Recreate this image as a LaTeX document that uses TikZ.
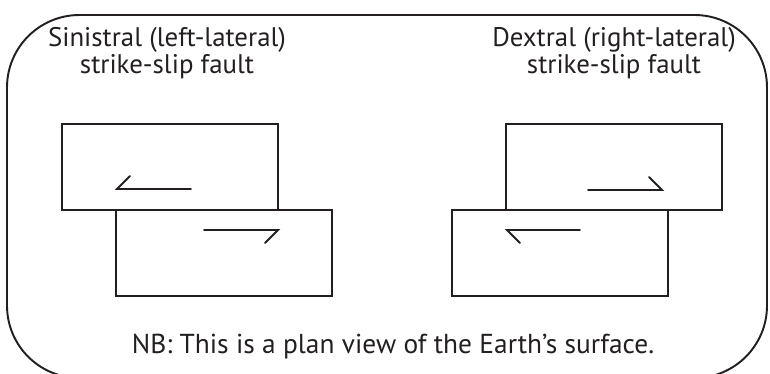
\documentclass[tikz,border=0pt]{standalone}
\usepackage{fontspec}
\setmainfont{PT Sans}
\usetikzlibrary{positioning}
\definecolor{ink}{HTML}{231F20}

\tikzset{
  block/.style={draw=ink, line width=1.1pt, minimum width=4.32cm, minimum height=1.72cm, inner sep=0pt},
  slip/.style={draw=ink, line width=1.1pt, line cap=round, line join=miter},
  caption/.style={font=\fontsize{15.3}{15.4}\selectfont, text=ink, align=center}
}

\begin{document}
\begin{tikzpicture}[x=0.02cm, y=-0.02cm]

% Page and frame
\useasboundingbox (0,0) rectangle (770,373);
\clip (0,0) rectangle (770,373);
\draw[ink, line width=1.1pt, rounded corners=1.45cm] (7,15) rectangle (767,378);

% Sinistral fault
\node[caption] (sinLabel) at (167,53) {Sinistral (left-lateral)\\strike-slip fault};
\node[block] (sinTop) at (170,167) {};
\node[block] (sinBot) at (224,253) {};
\draw[slip] (191,189) -- (117,189) -- (130,176);
\draw[slip] (204,230) -- (278,230) -- (265,243);

% Dextral fault
\node[caption] (dexLabel) at (614,53) {Dextral (right-lateral)\\strike-slip fault};
\node[block] (dexTop) at (614,167) {};
\node[block] (dexBot) at (560,253) {};
\draw[slip] (588,190) -- (662,190) -- (649,177);
\draw[slip] (580,230) -- (507,230) -- (520,243);

% Note at bottom
\node[caption, font=\fontsize{15.6}{16}\selectfont, anchor=base] (note) at (393,353) {NB: This is a plan view of the Earth’s surface.};

\end{tikzpicture}
\end{document}
